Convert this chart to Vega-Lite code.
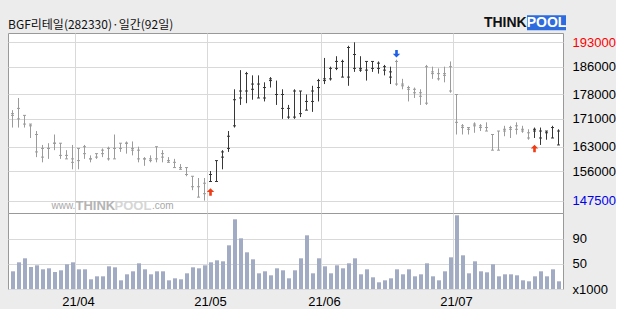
{
  "$schema": "https://vega.github.io/schema/vega-lite/v6.json",
  "background": "#ececec",
  "padding": {"left": 7, "top": 14, "right": 0, "bottom": 0},
  "spacing": 0,
  "bounds": "flush",
  "config": {
    "view": {"stroke": "#999999", "fill": "#ffffff"},
    "axis": {"labelFont": "'Liberation Sans Narrow', 'Liberation Sans', sans-serif", "labelFontSize": 13, "labelColor": "#000000", "ticks": false, "tickSize": 0, "domain": false, "title": null, "gridColor": "#d9d9d9", "gridWidth": 1, "labelOverlap": false}
  },
  "data": {"values": [
    {"d":"2021-03-17","o":172500,"h":173500,"l":168500,"c":172000,"v":37700,"m":"down","sig":""},
    {"d":"2021-03-18","o":171000,"h":177000,"l":168500,"c":174000,"v":52100,"m":"down","sig":""},
    {"d":"2021-03-19","o":172000,"h":172000,"l":168500,"c":169500,"v":58500,"m":"down","sig":""},
    {"d":"2021-03-22","o":169500,"h":169500,"l":165500,"c":169000,"v":44600,"m":"down","sig":""},
    {"d":"2021-03-23","o":166500,"h":167500,"l":160000,"c":161500,"v":47300,"m":"down","sig":""},
    {"d":"2021-03-24","o":160000,"h":163500,"l":158500,"c":162500,"v":40900,"m":"down","sig":""},
    {"d":"2021-03-25","o":162500,"h":164000,"l":159500,"c":162500,"v":42500,"m":"down","sig":""},
    {"d":"2021-03-26","o":164000,"h":166500,"l":162000,"c":164000,"v":36600,"m":"down","sig":""},
    {"d":"2021-03-29","o":164000,"h":164000,"l":159500,"c":160500,"v":39300,"m":"down","sig":""},
    {"d":"2021-03-30","o":160500,"h":162000,"l":159500,"c":159500,"v":48900,"m":"down","sig":""},
    {"d":"2021-03-31","o":159500,"h":163500,"l":156500,"c":158500,"v":52100,"m":"down","sig":""},
    {"d":"2021-04-01","o":159000,"h":162500,"l":156500,"c":162500,"v":40900,"m":"down","sig":""},
    {"d":"2021-04-02","o":163000,"h":163500,"l":159500,"c":161000,"v":40900,"m":"down","sig":""},
    {"d":"2021-04-05","o":159500,"h":160500,"l":158500,"c":159500,"v":24900,"m":"down","sig":""},
    {"d":"2021-04-06","o":160000,"h":161000,"l":159500,"c":161000,"v":29700,"m":"down","sig":""},
    {"d":"2021-04-07","o":161000,"h":162500,"l":160000,"c":162000,"v":29700,"m":"down","sig":""},
    {"d":"2021-04-08","o":162500,"h":163000,"l":159000,"c":159500,"v":45700,"m":"down","sig":""},
    {"d":"2021-04-09","o":159500,"h":166500,"l":159500,"c":162500,"v":44100,"m":"down","sig":""},
    {"d":"2021-04-12","o":162500,"h":164000,"l":161500,"c":164000,"v":23300,"m":"down","sig":""},
    {"d":"2021-04-13","o":164000,"h":164500,"l":161000,"c":164000,"v":32900,"m":"down","sig":""},
    {"d":"2021-04-14","o":162500,"h":164500,"l":160500,"c":162000,"v":37700,"m":"down","sig":""},
    {"d":"2021-04-15","o":162000,"h":163000,"l":158500,"c":159500,"v":50500,"m":"down","sig":""},
    {"d":"2021-04-16","o":159500,"h":160000,"l":157500,"c":159500,"v":40900,"m":"down","sig":""},
    {"d":"2021-04-19","o":159500,"h":160500,"l":158500,"c":159000,"v":32900,"m":"down","sig":""},
    {"d":"2021-04-20","o":159500,"h":163000,"l":158500,"c":163000,"v":37700,"m":"down","sig":""},
    {"d":"2021-04-21","o":161000,"h":162000,"l":158500,"c":160000,"v":37700,"m":"down","sig":""},
    {"d":"2021-04-22","o":159000,"h":160000,"l":158500,"c":158500,"v":23300,"m":"down","sig":""},
    {"d":"2021-04-23","o":158500,"h":159500,"l":157000,"c":157000,"v":26500,"m":"down","sig":""},
    {"d":"2021-04-26","o":157000,"h":158000,"l":156500,"c":156500,"v":24900,"m":"down","sig":""},
    {"d":"2021-04-27","o":157000,"h":157000,"l":154500,"c":155000,"v":34500,"m":"down","sig":""},
    {"d":"2021-04-28","o":154500,"h":154500,"l":150500,"c":151500,"v":44100,"m":"down","sig":""},
    {"d":"2021-04-29","o":151500,"h":154000,"l":148500,"c":148500,"v":42500,"m":"down","sig":""},
    {"d":"2021-04-30","o":149500,"h":154000,"l":147500,"c":152500,"v":47300,"m":"down","sig":""},
    {"d":"2021-05-03","o":155000,"h":156000,"l":153000,"c":153000,"v":52100,"m":"up","sig":"buy"},
    {"d":"2021-05-04","o":153000,"h":159000,"l":153000,"c":159000,"v":55300,"m":"up","sig":""},
    {"d":"2021-05-06","o":160000,"h":162000,"l":156500,"c":161500,"v":53700,"m":"up","sig":""},
    {"d":"2021-05-07","o":162500,"h":167500,"l":161500,"c":166000,"v":79300,"m":"up","sig":""},
    {"d":"2021-05-10","o":169000,"h":179500,"l":168500,"c":176500,"v":120900,"m":"up","sig":""},
    {"d":"2021-05-11","o":177000,"h":185000,"l":175000,"c":179000,"v":90500,"m":"up","sig":""},
    {"d":"2021-05-12","o":179000,"h":184500,"l":175500,"c":184000,"v":68100,"m":"up","sig":""},
    {"d":"2021-05-13","o":181000,"h":183500,"l":176500,"c":179500,"v":56900,"m":"up","sig":""},
    {"d":"2021-05-14","o":181000,"h":183500,"l":177000,"c":177000,"v":34500,"m":"up","sig":""},
    {"d":"2021-05-17","o":177000,"h":181500,"l":176000,"c":180000,"v":37700,"m":"up","sig":""},
    {"d":"2021-05-18","o":182500,"h":183000,"l":180000,"c":182000,"v":31300,"m":"up","sig":""},
    {"d":"2021-05-20","o":178000,"h":182000,"l":175000,"c":178000,"v":42500,"m":"up","sig":""},
    {"d":"2021-05-21","o":178000,"h":179500,"l":171000,"c":174000,"v":39300,"m":"up","sig":""},
    {"d":"2021-05-24","o":174000,"h":175000,"l":171000,"c":171500,"v":26500,"m":"up","sig":""},
    {"d":"2021-05-25","o":171500,"h":179500,"l":171000,"c":179000,"v":39300,"m":"up","sig":""},
    {"d":"2021-05-26","o":179000,"h":179000,"l":171500,"c":172500,"v":58500,"m":"up","sig":""},
    {"d":"2021-05-27","o":173500,"h":178000,"l":173500,"c":176000,"v":95300,"m":"up","sig":""},
    {"d":"2021-05-28","o":176000,"h":180500,"l":173000,"c":179000,"v":34500,"m":"up","sig":""},
    {"d":"2021-05-31","o":180000,"h":182500,"l":176000,"c":182000,"v":58500,"m":"up","sig":""},
    {"d":"2021-06-01","o":182000,"h":188500,"l":181000,"c":182500,"v":45700,"m":"up","sig":""},
    {"d":"2021-06-02","o":182500,"h":186000,"l":182000,"c":185500,"v":34500,"m":"up","sig":""},
    {"d":"2021-06-03","o":185500,"h":189000,"l":185000,"c":187500,"v":47300,"m":"up","sig":""},
    {"d":"2021-06-04","o":187500,"h":188000,"l":183000,"c":183000,"v":42500,"m":"up","sig":""},
    {"d":"2021-06-07","o":183000,"h":192000,"l":180500,"c":191500,"v":50500,"m":"up","sig":""},
    {"d":"2021-06-08","o":189500,"h":193000,"l":184500,"c":185500,"v":58500,"m":"up","sig":""},
    {"d":"2021-06-09","o":185500,"h":189000,"l":184500,"c":185000,"v":32900,"m":"up","sig":""},
    {"d":"2021-06-10","o":185000,"h":187500,"l":182000,"c":187500,"v":40900,"m":"up","sig":""},
    {"d":"2021-06-11","o":187500,"h":187500,"l":184500,"c":185500,"v":28100,"m":"up","sig":""},
    {"d":"2021-06-14","o":187000,"h":187500,"l":184000,"c":185500,"v":20100,"m":"up","sig":""},
    {"d":"2021-06-15","o":186000,"h":186500,"l":183500,"c":185000,"v":23300,"m":"up","sig":""},
    {"d":"2021-06-16","o":183000,"h":186000,"l":181000,"c":184500,"v":26500,"m":"up","sig":""},
    {"d":"2021-06-17","o":187500,"h":188000,"l":180500,"c":181000,"v":40900,"m":"down","sig":"sell"},
    {"d":"2021-06-18","o":181000,"h":182500,"l":179500,"c":180500,"v":32900,"m":"down","sig":""},
    {"d":"2021-06-21","o":180000,"h":180500,"l":176000,"c":179500,"v":40900,"m":"down","sig":""},
    {"d":"2021-06-22","o":179500,"h":180000,"l":177000,"c":178500,"v":29700,"m":"down","sig":""},
    {"d":"2021-06-23","o":178500,"h":179500,"l":175000,"c":177500,"v":32900,"m":"down","sig":""},
    {"d":"2021-06-24","o":175500,"h":186500,"l":175000,"c":186000,"v":50500,"m":"down","sig":""},
    {"d":"2021-06-25","o":184500,"h":186000,"l":182500,"c":184000,"v":29700,"m":"down","sig":""},
    {"d":"2021-06-28","o":184000,"h":185500,"l":182000,"c":182500,"v":23300,"m":"down","sig":""},
    {"d":"2021-06-29","o":183500,"h":186000,"l":181500,"c":184000,"v":37700,"m":"down","sig":""},
    {"d":"2021-06-30","o":186000,"h":187500,"l":178500,"c":179000,"v":60100,"m":"down","sig":""},
    {"d":"2021-07-01","o":178000,"h":178000,"l":166500,"c":170000,"v":127300,"m":"down","sig":""},
    {"d":"2021-07-02","o":169000,"h":169500,"l":166500,"c":168500,"v":63300,"m":"down","sig":""},
    {"d":"2021-07-05","o":168500,"h":168500,"l":166500,"c":168000,"v":34500,"m":"down","sig":""},
    {"d":"2021-07-06","o":169000,"h":170000,"l":167000,"c":169500,"v":53700,"m":"down","sig":""},
    {"d":"2021-07-07","o":168500,"h":169500,"l":167500,"c":169000,"v":37700,"m":"down","sig":""},
    {"d":"2021-07-08","o":168500,"h":170000,"l":167500,"c":167500,"v":36100,"m":"down","sig":""},
    {"d":"2021-07-09","o":166500,"h":166500,"l":162000,"c":162000,"v":48900,"m":"down","sig":""},
    {"d":"2021-07-12","o":162000,"h":167500,"l":162000,"c":167500,"v":29700,"m":"down","sig":""},
    {"d":"2021-07-13","o":167500,"h":169000,"l":166000,"c":168000,"v":32900,"m":"down","sig":""},
    {"d":"2021-07-14","o":168500,"h":169000,"l":165500,"c":168000,"v":32900,"m":"down","sig":""},
    {"d":"2021-07-15","o":169000,"h":170000,"l":166500,"c":168000,"v":31300,"m":"down","sig":""},
    {"d":"2021-07-16","o":168000,"h":169000,"l":167000,"c":167500,"v":23300,"m":"down","sig":""},
    {"d":"2021-07-19","o":167000,"h":168000,"l":165000,"c":165500,"v":21700,"m":"down","sig":""},
    {"d":"2021-07-20","o":167500,"h":168500,"l":165500,"c":168000,"v":29700,"m":"up","sig":"buy"},
    {"d":"2021-07-21","o":165500,"h":168500,"l":163500,"c":167500,"v":37700,"m":"up","sig":""},
    {"d":"2021-07-22","o":167000,"h":167500,"l":165000,"c":167500,"v":29700,"m":"up","sig":""},
    {"d":"2021-07-23","o":165500,"h":169000,"l":165500,"c":168500,"v":40900,"m":"up","sig":""},
    {"d":"2021-07-26","o":167500,"h":168000,"l":163500,"c":163500,"v":21700,"m":"up","sig":""}
  ]},
  "vconcat": [
    {
      "width": 555,
      "height": 180,
      "layer": [
        {
          "mark": {"type": "rule", "strokeWidth": 1},
          "encoding": {
            "x": {"field": "d", "type": "ordinal", "scale": {"paddingInner": 0, "paddingOuter": 0.25},
                  "axis": {"values": ["2021-04-01", "2021-05-03", "2021-06-01", "2021-07-01"], "bandPosition": 0, "labels": false, "grid": true}},
            "y": {"field": "h", "type": "quantitative", "scale": {"domain": [143941, 195673], "zero": false, "nice": false},
                  "axis": {"orient": "right", "values": [147500, 156000, 163000, 171000, 178000, 186000, 193000], "tickCount": 20, "format": "d", "grid": true, "labelPadding": 9, "labelOverlap": false,
                           "labelColor": {"expr": "datum.value == 193000 ? '#ff0000' : (datum.value == 147500 ? '#0000ee' : '#000000')"}}},
            "y2": {"field": "l"},
            "color": {"field": "m", "type": "nominal", "scale": {"domain": ["down", "up"], "range": ["#9b9b9b", "#373737"]}, "legend": null}
          }
        },
        {
          "mark": {"type": "tick", "orient": "horizontal", "size": 3, "thickness": 1, "opacity": 1},
          "encoding": {
            "x": {"field": "d", "type": "ordinal", "bandPosition": 0.25},
            "y": {"field": "o", "type": "quantitative"},
            "color": {"field": "m", "type": "nominal", "legend": null}
          }
        },
        {
          "mark": {"type": "tick", "orient": "horizontal", "size": 3, "thickness": 1, "opacity": 1},
          "encoding": {
            "x": {"field": "d", "type": "ordinal", "bandPosition": 0.75},
            "y": {"field": "c", "type": "quantitative"},
            "color": {"field": "m", "type": "nominal", "legend": null}
          }
        },
        {
          "transform": [{"filter": "datum.sig == 'buy'"}],
          "mark": {"type": "point", "shape": "M0,-1L1,0L0.35,0L0.35,1L-0.35,1L-0.35,0L-1,0Z", "size": 56, "filled": true, "opacity": 1, "color": "#f03c14", "strokeWidth": 0, "yOffset": 10.5},
          "encoding": {
            "x": {"field": "d", "type": "ordinal"},
            "y": {"field": "l", "type": "quantitative"}
          }
        },
        {
          "transform": [{"filter": "datum.sig == 'sell'"}],
          "mark": {"type": "point", "shape": "M0,1L1,0L0.35,0L0.35,-1L-0.35,-1L-0.35,0L-1,0Z", "size": 56, "filled": true, "opacity": 1, "color": "#1f5fe8", "strokeWidth": 0, "yOffset": -6},
          "encoding": {
            "x": {"field": "d", "type": "ordinal"},
            "y": {"field": "h", "type": "quantitative"}
          }
        },
        {
          "transform": [{"filter": "datum.d == '2021-03-17'"}],
          "mark": {"type": "text", "text": "BGF리테일(282330)·일간(92일)", "align": "left", "baseline": "alphabetic", "font": "Noto Sans CJK KR", "fontSize": 12, "color": "#111111", "dx": -1.5},
          "encoding": {
            "x": {"field": "d", "type": "ordinal", "bandPosition": 0},
            "y": {"datum": 196900}
          }
        },
        {
          "transform": [{"filter": "datum.d == '2021-07-22'"}],
          "mark": {"type": "rect", "width": 39, "color": "#2d6cdf"},
          "encoding": {
            "x": {"field": "d", "type": "ordinal"},
            "y": {"datum": 200750},
            "y2": {"datum": 196450}
          }
        },
        {
          "transform": [{"filter": "datum.d == '2021-07-22'"}],
          "mark": {"type": "text", "text": "POOL", "align": "center", "baseline": "middle", "font": "Liberation Sans", "fontWeight": "bold", "fontSize": 14, "color": "#ffffff"},
          "encoding": {
            "x": {"field": "d", "type": "ordinal"},
            "y": {"datum": 198600}
          }
        },
        {
          "transform": [{"filter": "datum.d == '2021-07-19'"}],
          "mark": {"type": "text", "text": "THINK", "align": "right", "baseline": "middle", "font": "Liberation Sans", "fontWeight": "bold", "fontSize": 14, "color": "#111111"},
          "encoding": {
            "x": {"field": "d", "type": "ordinal", "bandPosition": 0.2},
            "y": {"datum": 198600}
          }
        },
        {
          "transform": [{"filter": "datum.d == '2021-03-26'"}],
          "mark": {"type": "text", "text": "www.", "align": "left", "baseline": "middle", "font": "Liberation Sans", "fontSize": 10, "color": "#a8a8a8"},
          "encoding": {
            "x": {"field": "d", "type": "ordinal", "bandPosition": 0},
            "y": {"datum": 145867}
          }
        },
        {
          "transform": [{"filter": "datum.d == '2021-04-01'"}],
          "mark": {"type": "text", "text": "THINK", "align": "left", "baseline": "middle", "font": "Liberation Sans", "fontWeight": "bold", "fontSize": 13, "color": "#b4b4b4"},
          "encoding": {
            "x": {"field": "d", "type": "ordinal", "bandPosition": 0},
            "y": {"datum": 145867}
          }
        },
        {
          "transform": [{"filter": "datum.d == '2021-04-09'"}],
          "mark": {"type": "text", "text": "POOL", "align": "left", "baseline": "middle", "font": "Liberation Sans", "fontWeight": "bold", "fontSize": 13, "color": "#d6d6d6"},
          "encoding": {
            "x": {"field": "d", "type": "ordinal", "bandPosition": 0.5},
            "y": {"datum": 145867}
          }
        },
        {
          "transform": [{"filter": "datum.d == '2021-04-19'"}],
          "mark": {"type": "text", "text": ".com", "align": "left", "baseline": "middle", "font": "Liberation Sans", "fontSize": 10, "color": "#a8a8a8"},
          "encoding": {
            "x": {"field": "d", "type": "ordinal", "bandPosition": 0.75},
            "y": {"datum": 145867}
          }
        }
      ]
    },
    {
      "width": 555,
      "height": 76,
      "mark": {"type": "bar", "width": 4, "xOffset": 0.5, "color": "#a2abc4", "clip": true},
      "encoding": {
        "x": {"field": "d", "type": "ordinal", "scale": {"paddingInner": 0, "paddingOuter": 0.25},
              "axis": {"values": ["2021-04-01", "2021-05-03", "2021-06-01", "2021-07-01"], "bandPosition": 0, "grid": true, "labelAngle": 0, "labelPadding": 6,
                       "labelExpr": "slice(datum.value, 2, 4) + '/' + slice(datum.value, 5, 7)"}},
        "y": {"field": "v", "type": "quantitative", "scale": {"domain": [9400, 131000], "zero": false, "nice": false},
              "axis": {"orient": "right", "values": [9400, 50000, 90000], "tickCount": 10, "grid": true, "labelPadding": 9, "labelOverlap": false,
                       "labelExpr": "datum.value < 10000 ? 'x1000' : format(datum.value / 1000, 'd')"}}
      }
    }
  ]
}
